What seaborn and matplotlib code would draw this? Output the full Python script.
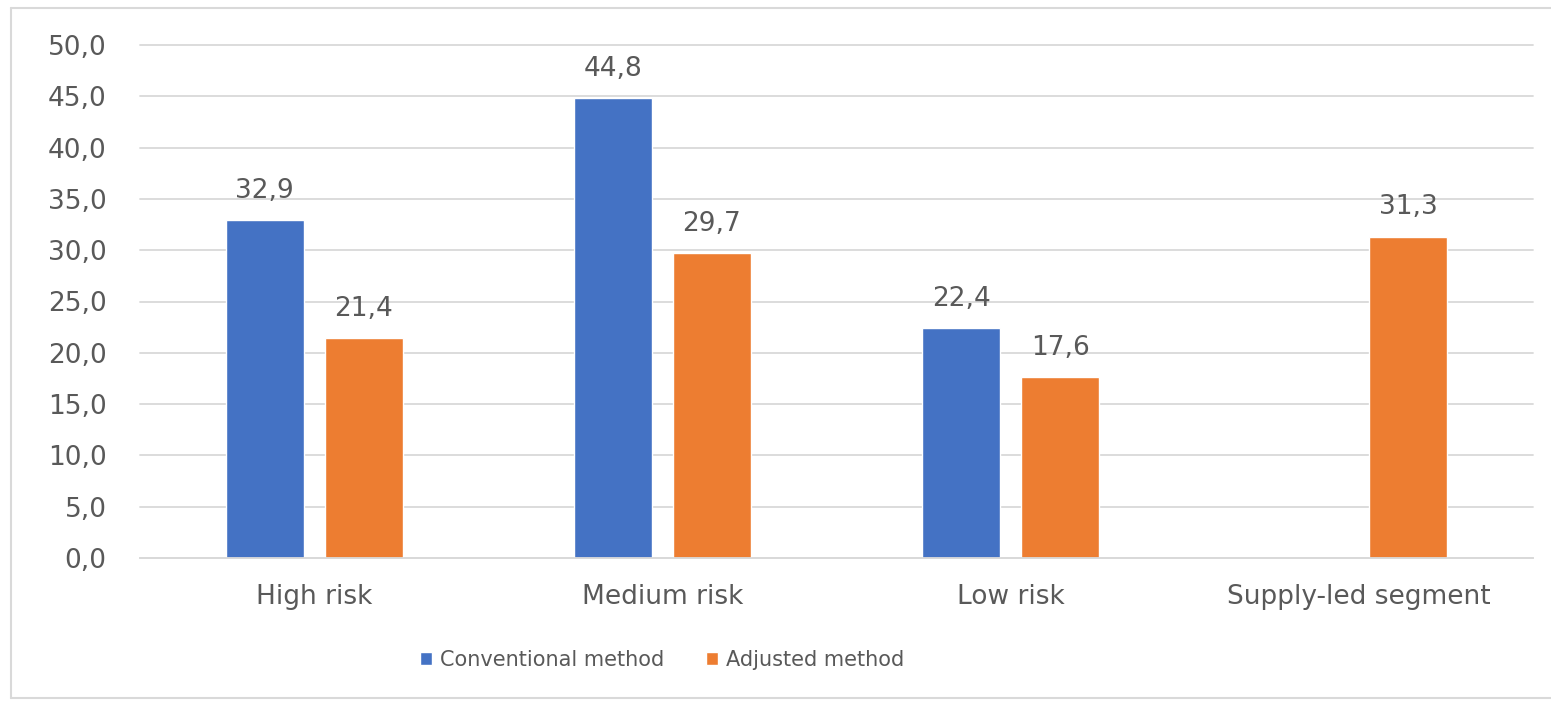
import matplotlib
matplotlib.use("Agg")
import matplotlib.pyplot as plt
from matplotlib.ticker import FuncFormatter, MultipleLocator
from matplotlib.lines import Line2D
import numpy as np
import pandas as pd
import seaborn as sns

# Segment values by estimation method
categories = ["High risk", "Medium risk", "Low risk", "Supply-led segment"]
methods = ["Conventional method", "Adjusted method"]
conventional = [32.9, 44.8, 22.4, np.nan]
adjusted = [21.4, 29.7, 17.6, 31.3]

colors = {"Conventional method": "#4472C4", "Adjusted method": "#ED7D31"}
text_color = "#595959"
grid_color = "#D9D9D9"

df = pd.DataFrame({
    "segment": categories * 2,
    "method": [methods[0]] * len(categories) + [methods[1]] * len(categories),
    "value": conventional + adjusted,
})

sns.set_theme(style="white")
plt.rcParams["font.family"] = ["DejaVu Sans"]

fig = plt.figure(figsize=(15.51, 7.01), dpi=100)
fig.patch.set_linewidth(0)
ax = fig.add_axes([140 / 1551, 1 - 558 / 701, (1533 - 140) / 1551, (558 - 45) / 701])

sns.barplot(data=df, x="segment", y="value", hue="method", order=categories,
            hue_order=methods, palette=colors, saturation=1, width=0.568, gap=0.211,
            errorbar=None, ax=ax, legend=True)

ax.set_ylim(0, 50)
ax.set_xlim(-0.5, len(categories) - 0.5)
ax.yaxis.set_major_locator(MultipleLocator(5))
ax.yaxis.set_major_formatter(FuncFormatter(lambda v, _: f"{v:.1f}".replace(".", ",")))
ax.set_xlabel("")
ax.set_ylabel("")

ax.grid(axis="y", color=grid_color, linewidth=1.3)
ax.set_axisbelow(True)
for line in ax.get_ygridlines():
    line.set_clip_on(False)
for side in ["top", "right", "left"]:
    ax.spines[side].set_visible(False)
ax.spines["bottom"].set_color(grid_color)
ax.spines["bottom"].set_linewidth(1.3)

ax.tick_params(axis="y", length=0, pad=24, labelsize=19, labelcolor=text_color)
ax.tick_params(axis="x", length=0, pad=19, labelsize=19, labelcolor=text_color)

# Value labels above each bar
for container in ax.containers:
    labels = ["" if np.isnan(v) else f"{v:.1f}".replace(".", ",") for v in container.datavalues]
    ax.bar_label(container, labels=labels, padding=12, fontsize=19, color=text_color)

handles, labels = ax.get_legend_handles_labels()
ax.get_legend().remove()
fig.legend(handles, labels, loc="center", bbox_to_anchor=(662 / 1551, 1 - 660 / 701),
           ncol=2, frameon=False, fontsize=15, labelcolor=text_color,
           handlelength=0.58, handleheight=0.58, handletextpad=0.38, columnspacing=2.0)

# Chart area outline: left, top and bottom edges
x0, y_top, y_bot = 11 / 1551, 1 - 8 / 701, 1 - 698 / 701
for xs, ys in [([x0, x0], [y_bot, y_top]), ([x0, 1.1], [y_top, y_top]), ([x0, 1.1], [y_bot, y_bot])]:
    fig.add_artist(Line2D(xs, ys, transform=fig.transFigure, color="#D9D9D9", linewidth=1.5))

fig.savefig("out.png", dpi=100, facecolor="white")
